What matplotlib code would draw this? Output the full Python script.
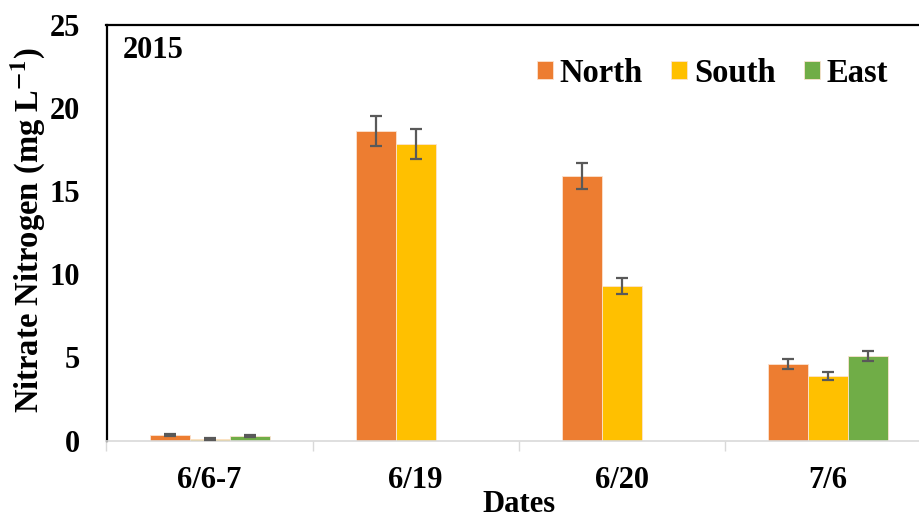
import numpy as np
import matplotlib.pyplot as plt
from matplotlib.ticker import FixedLocator, NullFormatter

plt.rcParams['font.family'] = ['Liberation Serif', 'DejaVu Serif']
plt.rcParams['font.weight'] = 'bold'
plt.rcParams['mathtext.fontset'] = 'stix'

dates = ['6/6-7', '6/19', '6/20', '7/6']
north = [0.33, 18.6, 15.9, 4.6]
south = [0.09, 17.8, 9.3, 3.9]
east = [0.29, np.nan, np.nan, 5.08]
north_err = [0.06, 0.93, 0.8, 0.28]
south_err = [0.06, 0.9, 0.47, 0.24]
east_err = [0.07, np.nan, np.nan, 0.28]

series = [('North', north, north_err, '#ED7D31'),
          ('South', south, south_err, '#FFC000'),
          ('East', east, east_err, '#70AD47')]

W, H = 919, 521
fig = plt.figure(figsize=(W / 100, H / 100), dpi=100)
# plot area runs a little past the right edge of the canvas
ax = fig.add_axes([106.5 / W, (H - 440.5) / H, (931 - 106.5) / W, 416 / H])

x = np.arange(len(dates))
bw = 0.194
for i, (name, vals, err, col) in enumerate(series):
    pos = x + (i - 1) * bw
    ax.bar(pos, vals, width=bw, color=col, edgecolor='#FBE3D0', linewidth=0.6, label=name, zorder=2)
    ax.errorbar(pos, vals, yerr=err, fmt='none', ecolor='#595959', elinewidth=1.6,
                capsize=4.5, capthick=1.6, zorder=3)

ax.set_xlim(-0.5, 3.5)
ax.set_ylim(0, 25)
ax.set_yticks([0, 5, 10, 15, 20, 25])
ax.tick_params(axis='y', length=0, pad=19, labelsize=22)

# category boundaries carry the tick marks, labels sit between them
ax.xaxis.set_major_locator(FixedLocator([-0.5, 0.5, 1.5, 2.5, 3.5]))
ax.xaxis.set_major_formatter(NullFormatter())
ax.xaxis.set_minor_locator(FixedLocator(x))
ax.set_xticklabels(dates, minor=True)
ax.tick_params(axis='x', which='major', direction='out', length=7, width=1, color='#D9D9D9')
ax.tick_params(axis='x', which='minor', length=0, pad=18, labelsize=22)

for s in ['left', 'top', 'right']:
    ax.spines[s].set_color('black')
    ax.spines[s].set_linewidth(1.6)
ax.spines['bottom'].set_color('#D9D9D9')
ax.spines['bottom'].set_linewidth(1.2)

ax.set_xlabel('Dates', fontsize=22, fontweight='bold', labelpad=-3)
fig.text(27.5 / W, 1 - 230 / H, 'Nitrate Nitrogen (mg L$^{\\mathbf{-1}}$)', rotation=90,
         fontsize=23.5, fontweight='bold', ha='center', va='center')

fig.text(123 / W, 1 - 58 / H, '2015', fontsize=22, fontweight='bold', ha='left', va='baseline')

ax.legend(loc='center left', bbox_to_anchor=(537 / W, 1 - 73 / H), bbox_transform=fig.transFigure,
          ncol=3, frameon=False, prop={'size': 23.5, 'weight': 'bold'},
          handlelength=0.49, handleheight=0.49, handletextpad=0.21, columnspacing=0.86,
          borderpad=0, borderaxespad=0)

fig.savefig('out.png', dpi=100)
